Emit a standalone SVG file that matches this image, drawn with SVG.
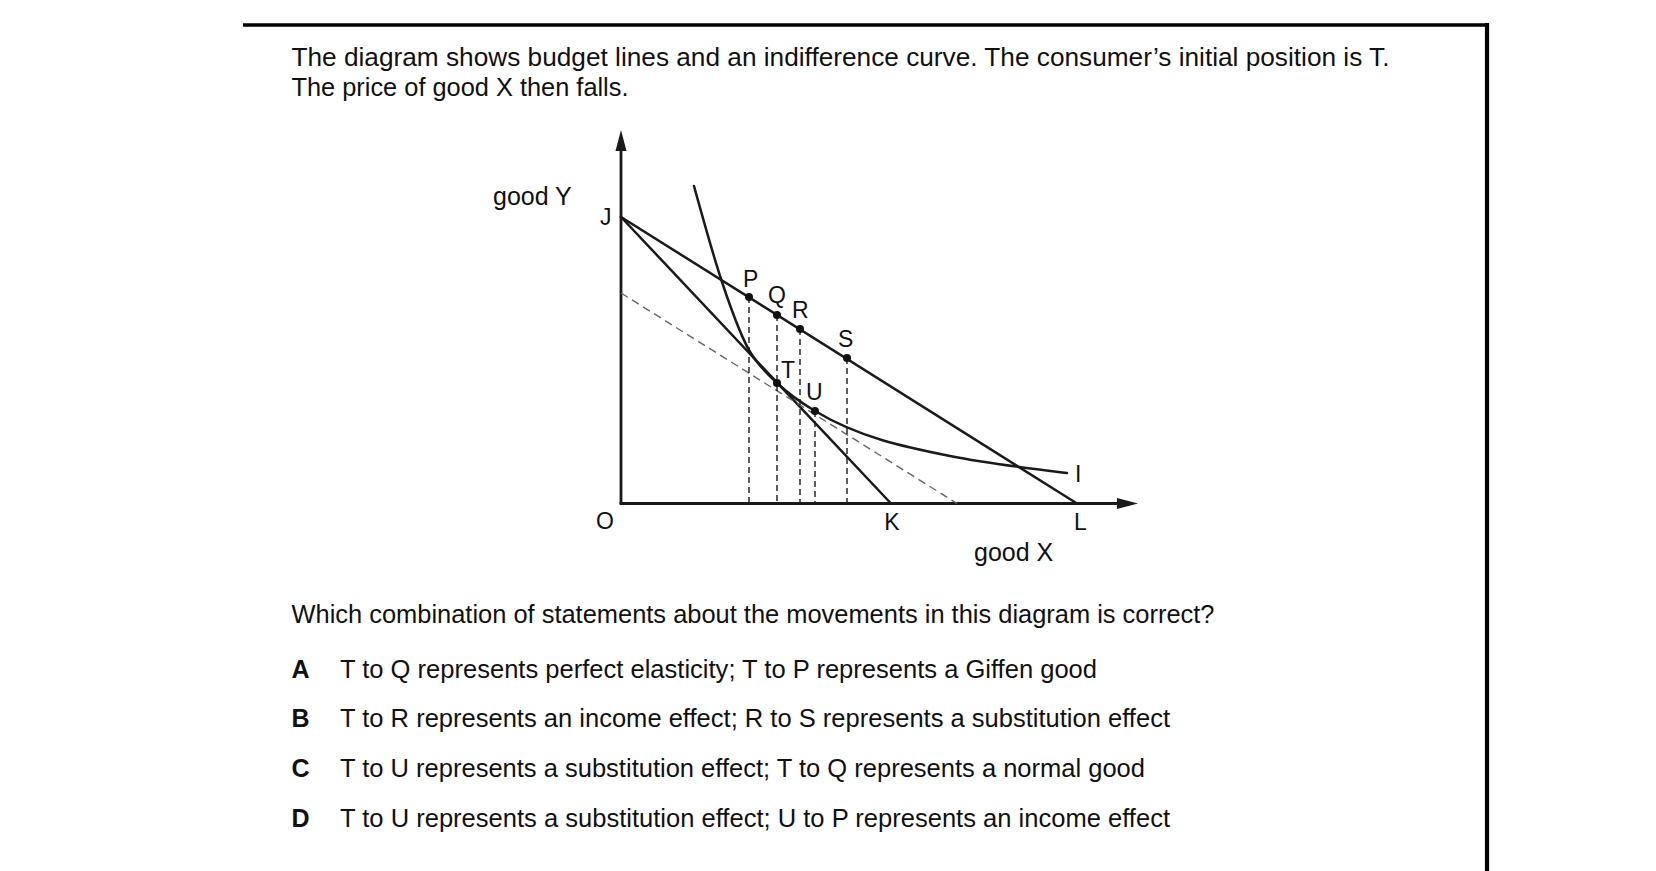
<svg xmlns="http://www.w3.org/2000/svg" width="1656" height="871" viewBox="0 0 1656 871">
<style>
.t{font-family:"Liberation Sans",Arial,sans-serif;font-size:25px;fill:#111}
.lb{font-family:"Liberation Sans",Arial,sans-serif;font-size:23px;fill:#111}
.b{font-weight:bold}
.ln{stroke:#1a1a1a;stroke-width:2.5;fill:none;stroke-linecap:round}
.ax{stroke:#1a1a1a;stroke-width:2.8;fill:none}
.vd{stroke:#1a1a1a;stroke-width:1.4;stroke-dasharray:6 4;fill:none}
.gd{stroke:#666;stroke-width:1.4;stroke-dasharray:8 5;fill:none}
.dot{fill:#111}
</style>
<rect width="1656" height="871" fill="#fff"/>
<g id="frame">
<line x1="243" y1="25" x2="1489" y2="25" stroke="#000" stroke-width="3.6"/>
<line x1="1487" y1="23" x2="1487" y2="871" stroke="#000" stroke-width="4.2"/>
</g>
<g id="question">
<text class="t" x="291.5" y="66" textLength="1098" lengthAdjust="spacingAndGlyphs">The diagram shows budget lines and an indifference curve. The consumer’s initial position is T.</text>
<text class="t" x="291.5" y="95.5" textLength="337" lengthAdjust="spacingAndGlyphs">The price of good X then falls.</text>
<text class="t" x="291.5" y="622.5" textLength="923" lengthAdjust="spacingAndGlyphs">Which combination of statements about the movements in this diagram is correct?</text>
</g>
<g id="axes">
<line class="ax" x1="621" y1="148" x2="621" y2="504"/>
<line class="ax" x1="619.6" y1="503.5" x2="1119" y2="503.5"/>
<polygon points="621,130 615.5,151 626.5,151" fill="#1a1a1a"/>
<polygon points="1138,503.5 1117,498 1117,509" fill="#1a1a1a"/>
</g>
<g id="connectors">
<line class="ln" x1="621" y1="217" x2="1077" y2="503.5"/>
<line class="ln" x1="621" y1="217" x2="891" y2="503.5"/>
<line class="gd" x1="621" y1="293" x2="957" y2="503.5"/>
<path id="curve-I" class="ln" d="M694,186 C703.3,219.6 712.7,254 722,282 C732,312 742,340 752,355 C760.3,367.5 768.7,375.1 777,383 C789.7,395 802.3,403.4 815,411 C860,438 905,447 950,456 C989,463.8 1028,468.3 1067,473"/>
<line class="vd" x1="749" y1="297" x2="749" y2="503"/>
<line class="vd" x1="777" y1="315" x2="777" y2="503"/>
<line class="vd" x1="800" y1="329" x2="800" y2="503"/>
<line class="vd" x1="815" y1="411" x2="815" y2="503"/>
<line class="vd" x1="847" y1="358" x2="847" y2="503"/>
</g>
<g id="node-P"><circle class="dot" cx="749" cy="297" r="4"/><text class="lb" x="743" y="287">P</text></g>
<g id="node-Q"><circle class="dot" cx="777" cy="315" r="4"/><text class="lb" x="768" y="303">Q</text></g>
<g id="node-R"><circle class="dot" cx="800" cy="329" r="4"/><text class="lb" x="792" y="318">R</text></g>
<g id="node-S"><circle class="dot" cx="847" cy="358" r="4"/><text class="lb" x="838" y="347">S</text></g>
<g id="node-T"><circle class="dot" cx="777" cy="383" r="4"/><text class="lb" x="781" y="378">T</text></g>
<g id="node-U"><circle class="dot" cx="815" cy="411" r="4"/><text class="lb" x="806" y="400">U</text></g>
<g id="labels">
<text class="t" x="493" y="205">good Y</text>
<text class="lb" x="600" y="225">J</text>
<text class="lb" x="605" y="529" text-anchor="middle">O</text>
<text class="lb" x="892" y="530" text-anchor="middle">K</text>
<text class="lb" x="1074" y="530">L</text>
<text class="lb" x="1075" y="482">I</text>
<text class="t" x="974" y="561">good X</text>
</g>
<g id="options">
<text class="t b" x="291.5" y="677.5">A</text>
<text class="t" x="340" y="677.5" textLength="757" lengthAdjust="spacingAndGlyphs">T to Q represents perfect elasticity; T to P represents a Giffen good</text>
<text class="t b" x="291.5" y="727">B</text>
<text class="t" x="340" y="727" textLength="830" lengthAdjust="spacingAndGlyphs">T to R represents an income effect; R to S represents a substitution effect</text>
<text class="t b" x="291.5" y="777">C</text>
<text class="t" x="340" y="777" textLength="805" lengthAdjust="spacingAndGlyphs">T to U represents a substitution effect; T to Q represents a normal good</text>
<text class="t b" x="291.5" y="826.5">D</text>
<text class="t" x="340" y="826.5" textLength="830" lengthAdjust="spacingAndGlyphs">T to U represents a substitution effect; U to P represents an income effect</text>
</g>
</svg>
